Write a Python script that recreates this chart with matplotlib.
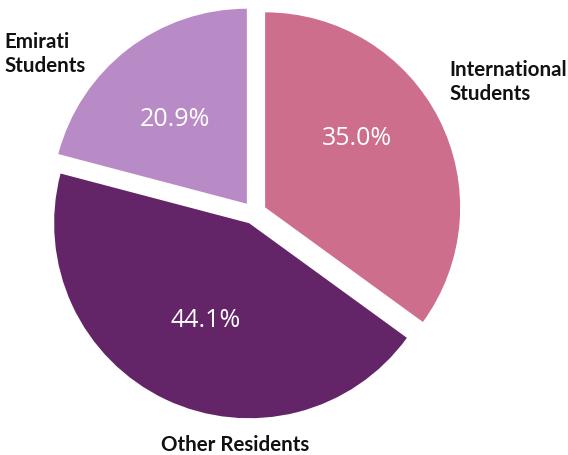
import numpy as np
import matplotlib
matplotlib.use("Agg")
import matplotlib.pyplot as plt

# Share of population groups
categories = ["International\nStudents", "Other Residents", "Emirati\nStudents"]
shares = [35.0, 44.1, 20.9]
colors = ["#cc6e8c", "#632567", "#b98bc6"]

W, H = 568, 455
R_PX = 195.0           # pie radius in pixels
CX, CY = 254.0, 213.0  # pie centre in pixels (from top-left)

fig = plt.figure(figsize=(W / 100, H / 100), dpi=100)
ax = fig.add_axes([0, 0, 1, 1])

wedges, _, pct_texts = ax.pie(
    shares,
    colors=colors,
    startangle=90,
    counterclock=False,
    explode=[0.064, 0.058, 0.06],
    autopct="%.1f%%",
    pctdistance=0.56,
    wedgeprops=dict(linewidth=0),
    textprops=dict(color="white", fontsize=18, family=["Open Sans", "DejaVu Sans"],
                   fontweight="normal"),
)

# data limits so that one unit equals the radius in pixels
ax.set_xlim(-CX / R_PX, (W - CX) / R_PX)
ax.set_ylim(-(H - CY) / R_PX, CY / R_PX)
ax.set_aspect("auto")
ax.axis("off")

# percentage label placement (angle in degrees, distance in radii) per wedge
pct_angle = [36.7, 245.8, 130.4]
pct_dist = [0.59, 0.545, 0.566]
for w, t, a, d in zip(wedges, pct_texts, pct_angle, pct_dist):
    cx, cy = w.center
    t.set_position((cx + d * np.cos(np.radians(a)), cy + d * np.sin(np.radians(a))))
    t.set_ha("center")
    t.set_va("center")

# outer category labels (pixel positions from top-left)
label_pos = [(449, 81.5, "left"), (235.5, 445, "center"), (4, 53.5, "left")]
for name, (px, py, ha) in zip(categories, label_pos):
    fig.text(px / W, 1 - py / H, name, ha=ha, va="center", fontsize=14.8,
             fontweight="bold", color="#111111", linespacing=1.25,
             family=["Lato", "DejaVu Sans"])

fig.savefig("out.png", dpi=100)
